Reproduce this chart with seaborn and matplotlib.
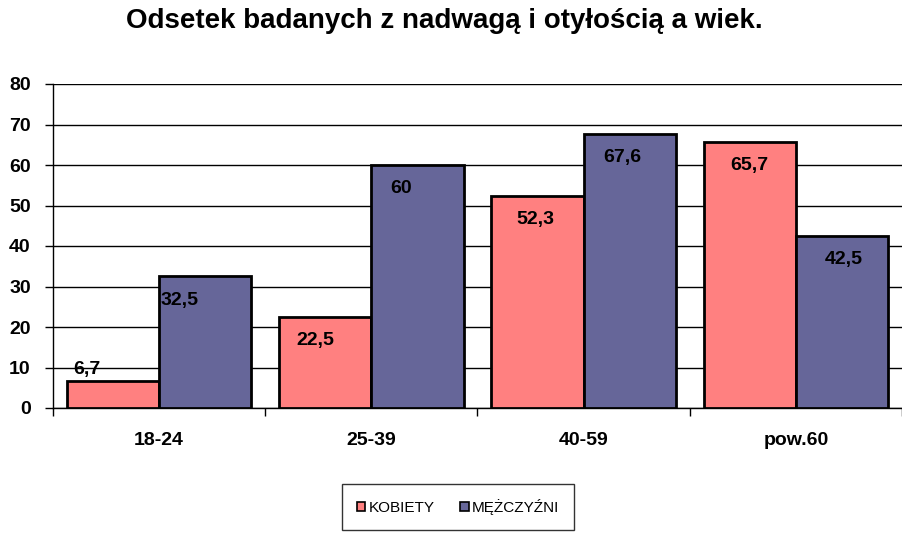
import matplotlib
matplotlib.use("Agg")
import matplotlib.pyplot as plt
import seaborn as sns
import pandas as pd
from matplotlib.patches import Patch
from matplotlib.ticker import FixedLocator

categories = ["18-24", "25-39", "40-59", "pow.60"]
series_names = ["KOBIETY", "MĘŻCZYŹNI"]
kobiety = [6.7, 22.5, 52.3, 65.7]
mezczyzni = [32.5, 60.0, 67.6, 42.5]
label_texts_k = ["6,7", "22,5", "52,3", "65,7"]
label_texts_m = ["32,5", "60", "67,6", "42,5"]
y_ticks = [0, 10, 20, 30, 40, 50, 60, 70, 80]

colors = ["#FF8080", "#666699"]

sns.set_theme(style="white")
plt.rcParams['font.family'] = ['Liberation Sans', 'DejaVu Sans']
plt.rcParams['text.color'] = 'black'
plt.rcParams['xtick.color'] = 'black'
plt.rcParams['ytick.color'] = 'black'

df = pd.DataFrame({
    "age": categories * 2,
    "val": kobiety + mezczyzni,
    "sex": [series_names[0]] * 4 + [series_names[1]] * 4,
})

fig = plt.figure(figsize=(9.03, 5.51), dpi=100)
ax = fig.add_axes([53 / 903, 143 / 551, 849 / 903, 324 / 551])

sns.barplot(data=df, x="age", y="val", hue="sex", palette=colors,
            saturation=1, width=0.87, gap=0, edgecolor="black", linewidth=2,
            legend=False, ax=ax, zorder=3)

ax.set_ylim(0, 80)
ax.set_xlim(-0.5, 3.5)
ax.set_yticks(y_ticks)
ax.yaxis.grid(True, color="black", linewidth=1, zorder=0)
ax.set_axisbelow(True)
for s in ["top", "right"]:
    ax.spines[s].set_visible(False)
for s in ["left", "bottom"]:
    ax.spines[s].set_color("black")
    ax.spines[s].set_linewidth(1)
ax.set_xlabel("")
ax.set_ylabel("")
ax.tick_params(axis="y", length=6, width=1, color="black", left=True, pad=10,
               labelsize=14)
ax.tick_params(axis="x", which="major", length=0, pad=17, labelsize=14)
ax.xaxis.set_minor_locator(FixedLocator([-0.5, 0.5, 1.5, 2.5, 3.5]))
ax.tick_params(axis="x", which="minor", length=6, width=1, color="black", bottom=True)
for lab in ax.get_xticklabels() + ax.get_yticklabels():
    lab.set_fontweight("bold")
    lab.set_color("black")

# data labels
containers = ax.containers
label_dx = [[-26, -10, -2, 0], [-26, -16, -7, 2]]
for ci, (cont, texts) in enumerate(zip(containers, [label_texts_k, label_texts_m])):
    for bi, (bar, t) in enumerate(zip(cont, texts)):
        x = bar.get_x() + bar.get_width() / 2
        h = bar.get_height()
        if h < 10:
            dy = 2
            va = "bottom"
        else:
            dy = -11
            va = "top"
        ax.annotate(t, (x, h), xytext=(label_dx[ci][bi] * 0.72, dy),
                    textcoords="offset points", ha="center", va=va,
                    fontsize=14, fontweight="bold", color="black", zorder=5)

fig.suptitle("Odsetek badanych z nadwagą i otyłością a wiek.", x=444 / 903,
             y=1 - 8 / 551, va="top", fontsize=20, fontweight="bold", color="black")

handles = [Patch(facecolor=c, edgecolor="black", linewidth=1.2) for c in colors]
leg = fig.legend(handles, series_names, loc="center", bbox_to_anchor=(458 / 903, 1 - 507 / 551),
                 ncol=2, frameon=True, fancybox=False, fontsize=11,
                 handlelength=0.55, handleheight=0.55, handletextpad=0.2,
                 columnspacing=1.7, borderpad=1.0, borderaxespad=0)
leg.get_frame().set_edgecolor("black")
leg.get_frame().set_linewidth(1)
for t in leg.get_texts():
    t.set_color("black")

fig.savefig("out.png", dpi=100)
